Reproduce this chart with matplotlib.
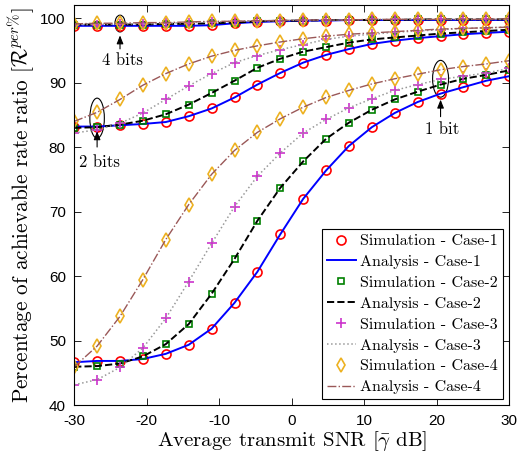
import numpy as np
import matplotlib
matplotlib.use('Agg')
import matplotlib.pyplot as plt
from matplotlib.patches import Ellipse

plt.rcParams['mathtext.fontset'] = 'cm'
plt.rcParams['axes.unicode_minus'] = False
plt.rcParams['font.family'] = ['Liberation Sans', 'DejaVu Sans']

# average transmit SNR points (dB)
snr = [-30, -26.84, -23.68, -20.53, -17.37, -14.21, -11.05, -7.89, -4.74, -1.58,
       1.58, 4.74, 7.89, 11.05, 14.21, 17.37, 20.53, 23.68, 26.84, 30]

# 1 bit
b1_case1 = [46.7, 46.9, 46.9, 47.2, 48.0, 49.4, 51.9, 55.9, 60.7, 66.5,
            72.0, 76.4, 80.2, 83.1, 85.3, 87.0, 88.3, 89.3, 90.3, 91.0]
b1_case2 = [46.0, 46.1, 46.5, 47.6, 49.5, 52.6, 57.3, 62.7, 68.6, 73.7,
            77.8, 81.3, 83.8, 85.8, 87.4, 88.6, 89.7, 90.6, 91.2, 91.9]
b1_case3 = [43.2, 44.0, 45.9, 48.9, 53.5, 59.2, 65.1, 70.8, 75.5, 79.1,
            82.2, 84.3, 86.1, 87.5, 88.8, 89.7, 90.5, 91.0, 91.5, 92.2]
b1_case4 = [46.0, 49.2, 53.8, 59.5, 65.7, 71.1, 75.8, 79.5, 82.3, 84.4,
            86.2, 87.7, 88.8, 89.8, 90.6, 91.3, 92.0, 92.5, 92.9, 93.4]

# 2 bits
b2_case1 = [83.2, 83.2, 83.4, 83.6, 83.9, 84.8, 86.0, 87.7, 89.7, 91.5,
            93.1, 94.3, 95.2, 96.0, 96.5, 96.9, 97.2, 97.5, 97.7, 97.9]
b2_case2 = [83.0, 83.1, 83.5, 84.1, 85.1, 86.6, 88.4, 90.3, 92.3, 93.7,
            94.8, 95.5, 96.2, 96.7, 97.0, 97.3, 97.6, 97.8, 98.0, 98.2]
b2_case3 = [82.2, 82.7, 83.7, 85.3, 87.4, 89.5, 91.4, 93.1, 94.2, 95.1,
            95.9, 96.7, 97.2, 97.5, 97.8, 98.0, 98.2, 98.4, 98.5, 98.6]
b2_case4 = [84.0, 85.4, 87.4, 89.6, 91.4, 92.9, 94.1, 95.0, 95.7, 96.3,
            96.8, 97.2, 97.5, 97.7, 97.9, 98.1, 98.3, 98.4, 98.5, 98.6]

# 4 bits
b4_case1 = [98.8, 98.8, 98.8, 98.8, 98.8, 98.8, 98.9, 99.2, 99.4, 99.5,
            99.6, 99.6, 99.7, 99.7, 99.7, 99.7, 99.7, 99.7, 99.7, 99.7]
b4_case2 = [99.0, 99.0, 99.0, 99.0, 99.1, 99.1, 99.2, 99.3, 99.5, 99.6,
            99.6, 99.7, 99.7, 99.7, 99.7, 99.8, 99.8, 99.8, 99.8, 99.8]
b4_case3 = [99.0, 99.0, 99.1, 99.1, 99.2, 99.3, 99.4, 99.5, 99.6, 99.6,
            99.7, 99.7, 99.7, 99.8, 99.8, 99.8, 99.8, 99.8, 99.8, 99.8]
b4_case4 = [99.1, 99.2, 99.2, 99.3, 99.3, 99.4, 99.5, 99.5, 99.6, 99.6,
            99.7, 99.7, 99.7, 99.8, 99.8, 99.8, 99.8, 99.8, 99.8, 99.9]

groups = [[b1_case1, b1_case2, b1_case3, b1_case4],
          [b2_case1, b2_case2, b2_case3, b2_case4],
          [b4_case1, b4_case2, b4_case3, b4_case4]]

# simulation markers and analysis lines per case
sim_style = [dict(marker='o', color='#ff0000', ms=6.5, mfc='none', mew=1.2),
             dict(marker='s', color='#008000', ms=5, mfc='none', mew=1.2),
             dict(marker='+', color='#cc33cc', ms=7.5, mew=1.2),
             dict(marker='d', color='#EDB120', ms=7, mfc='none', mew=1.2)]
ana_style = [dict(color='#0000ff', ls='-', lw=1.4),
             dict(color='black', ls='--', lw=1.4),
             dict(color='#999999', ls=':', lw=1.1),
             dict(color='#9a5858', ls='-.', lw=1.0)]

fig = plt.figure(figsize=(5.21, 4.57), dpi=100)
ax = fig.add_axes([0.1424, 0.1127, 0.835, 0.876])

handles = []
for gi, grp in enumerate(groups):
    for ci in range(4):
        hs, = ax.plot(snr, grp[ci], ls='none', **sim_style[ci])
        ha, = ax.plot(snr, grp[ci], **ana_style[ci])
        if gi == 0:
            handles += [(hs, 'Simulation - Case-%d' % (ci + 1)),
                        (ha, 'Analysis - Case-%d' % (ci + 1))]

ax.set_xlim(-30, 30)
ax.set_ylim(40, 102)
ax.set_xticks([-30, -20, -10, 0, 10, 20, 30])
ax.set_yticks([40, 50, 60, 70, 80, 90, 100])
ax.tick_params(direction='in', top=True, right=True, length=5, width=0.6,
               labelsize=11, pad=6)
for s in ax.spines.values():
    s.set_linewidth(0.8)

ax.set_xlabel(r'Average transmit SNR [$\bar{\gamma}$ dB]', fontfamily='cmr10',
              fontsize=15, labelpad=1)
ax.set_ylabel(r'Percentage of achievable rate ratio [$\mathcal{R}^{per\%}$]',
              fontfamily='cmr10', fontsize=15.3, labelpad=3)

# annotations
ann = [(-23.68, 99.15, 1.4, 2.6, 97.75, 94.8, -23.4, 93.4, '4 bits'),
       (-26.84, 84.5, 2.0, 6.2, 82.9, 79.6, -26.5, 77.6, '2 bits'),
       (20.53, 90.6, 2.2, 5.7, 87.8, 84.3, 20.7, 82.8, '1 bit')]
for x0, y0, w, h, ytip, ytail, xt, yt, txt in ann:
    ax.add_patch(Ellipse((x0, y0), w, h, fill=False, lw=0.8, color='black'))
    ax.annotate('', xy=(x0, ytip), xytext=(x0, ytail),
                arrowprops=dict(arrowstyle='-|>,head_width=0.2,head_length=0.5',
                                color='black', lw=0.8))
    ax.text(xt, yt, txt, ha='center', va='center', fontfamily='cmr10', fontsize=12)

leg = ax.legend([h[0] for h in handles], [h[1] for h in handles],
                loc='lower right', prop={'family': 'cmr10', 'size': 11.5},
                fancybox=False, edgecolor='black', framealpha=1,
                labelspacing=0.42, handlelength=1.8, handletextpad=0.3,
                borderpad=0.3, borderaxespad=0.4)
leg.get_frame().set_linewidth(0.8)

fig.savefig('out.png', dpi=100)
